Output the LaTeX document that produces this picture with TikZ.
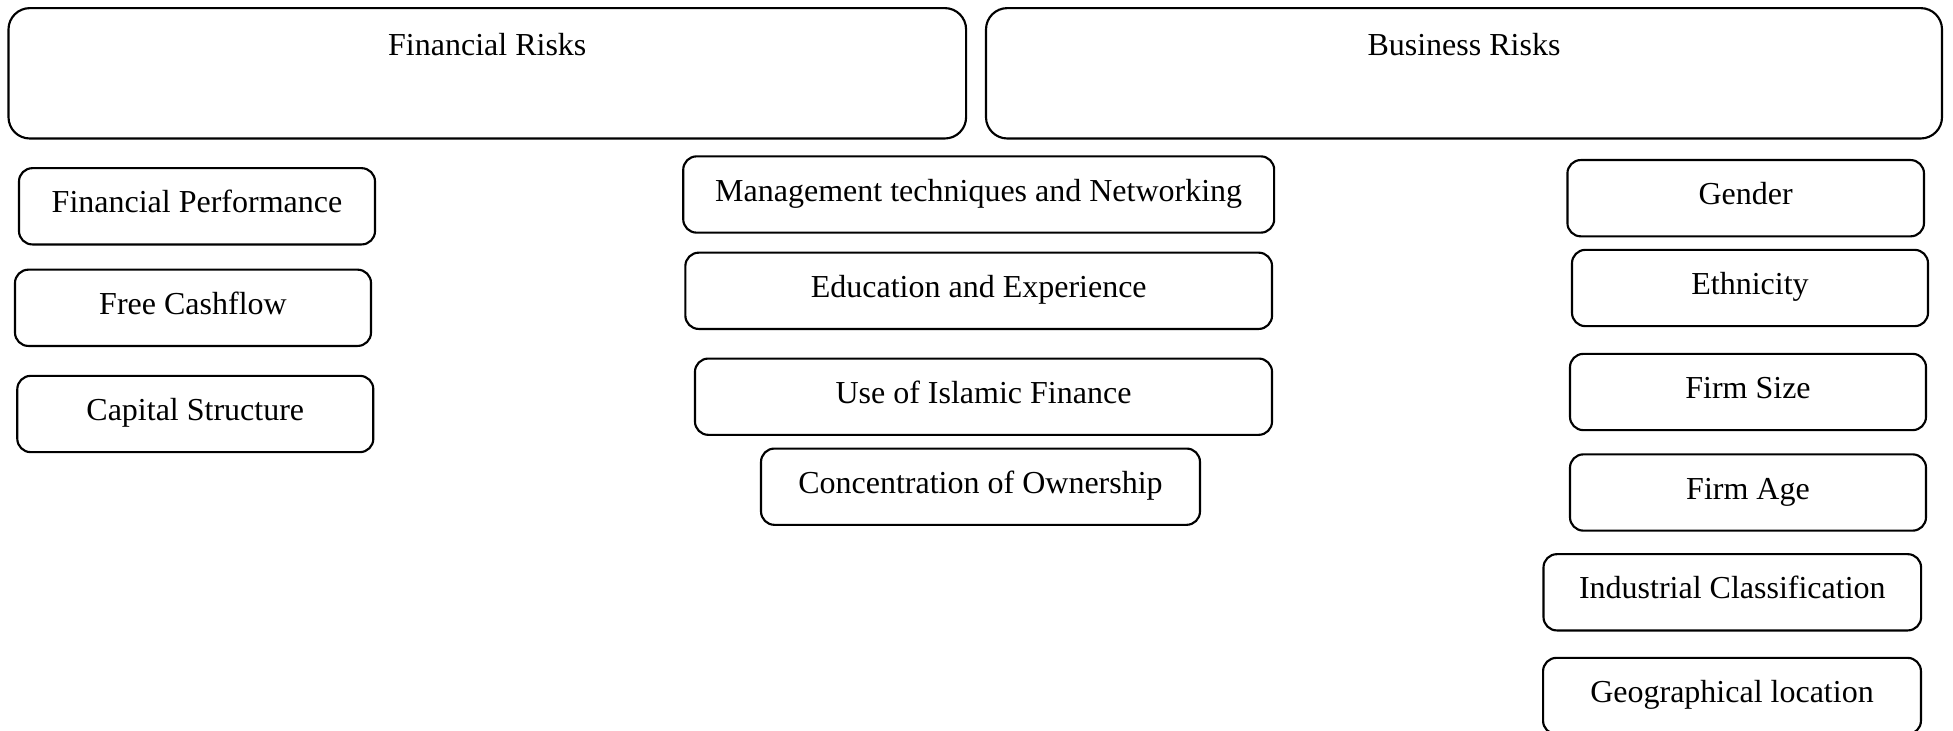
\documentclass[tikz,border=0pt]{standalone}
\usepackage{fontspec}
\setmainfont{Liberation Serif}
\usepackage{tikz}
\usetikzlibrary{positioning}
\definecolor{mydark}{RGB}{0,0,0}
\tikzset{
  riskbox/.style={rectangle, draw=mydark, rounded corners=8pt,
    line width=0.8pt, inner sep=0pt, minimum height=48.9pt,
    text height=8pt, text depth=21.2pt,
    font=\fontsize{12pt}{14.4pt}\selectfont},
  factor/.style={rectangle, draw=mydark, rounded corners=5pt,
    line width=0.8pt, inner sep=0pt, minimum height=28.6pt,
    text height=8pt, text depth=3pt,
    font=\fontsize{12pt}{14.4pt}\selectfont}
}

\begin{document}
\begin{tikzpicture}[x=0.375pt, y=-0.375pt]
  \useasboundingbox (0,0) rectangle (1953,731);

  % Two risk groups along the top
  \node[riskbox, minimum width=359.1pt] (finrisk) at (487.3,73.3) {Financial Risks};
  \node[riskbox, minimum width=358.5pt] (busrisk) at (1464,73.3) {Business Risks};

  % Financial side
  \node[factor, minimum width=133.5pt] (finperf) at (197,206.3) {Financial Performance};
  \node[factor, minimum width=133.5pt] (cashflow) at (193,307.8) {Free Cashflow};
  \node[factor, minimum width=133.5pt] (capstruct) at (195.3,414) {Capital Structure};

  % Middle column
  \node[factor, minimum width=221.6pt] (mgmt) at (978.7,194.5) {Management techniques and Networking};
  \node[factor, minimum width=220pt] (edu) at (978.7,290.8) {Education and Experience};
  \node[factor, minimum width=216.4pt] (islamic) at (983.5,396.7) {Use of Islamic Finance};
  \node[factor, minimum width=164.6pt] (owner) at (980.5,486.7) {Concentration of Ownership};

  % Business side
  \node[factor, minimum width=133.7pt] (gender) at (1745.7,198.2) {Gender};
  \node[factor, minimum width=133.5pt] (ethnic) at (1750,288) {Ethnicity};
  \node[factor, minimum width=133.5pt] (firmsize) at (1748,392) {Firm Size};
  \node[factor, minimum width=133.5pt] (firmage) at (1748,492.5) {Firm Age};
  \node[factor, minimum width=141.6pt] (industry) at (1732.3,592.3) {Industrial Classification};
  \node[factor, minimum width=141.7pt] (geo) at (1732,696) {Geographical location};
\end{tikzpicture}
\end{document}
